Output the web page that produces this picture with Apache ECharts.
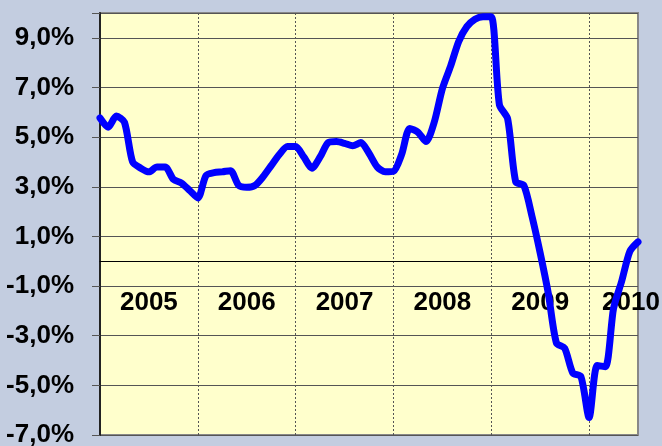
<!DOCTYPE html>
<html>
<head>
<meta charset="utf-8">
<script src="https://cdn.jsdelivr.net/npm/echarts@6/dist/echarts.min.js"></script>
<style>
html,body{margin:0;padding:0;background:#c3cde0;}
#chart{width:662px;height:446px;}
</style>
</head>
<body>
<div id="chart"></div>
<script>
// Monthly categories Jan 2005 .. Jul 2010
var years = ['2005','2006','2007','2008','2009','2010'];
var months = [];
for (var y = 2005; y <= 2010; y++) {
  for (var m = 1; m <= 12; m++) {
    if (y === 2010 && m > 7) break;
    months.push(y + '-' + (m < 10 ? '0' + m : m));
  }
}
// Values (%)
var values = [
  5.77, 5.40, 5.85, 5.60, 4.00, 3.75, 3.60, 3.80, 3.80, 3.30, 3.15, 2.85,
  2.55, 3.45, 3.57, 3.60, 3.65, 3.06, 2.98, 3.05, 3.40, 3.85, 4.30, 4.62,
  4.62, 4.20, 3.75, 4.20, 4.78, 4.82, 4.75, 4.65, 4.78, 4.35, 3.80, 3.60,
  3.62, 4.30, 5.35, 5.20, 4.82, 5.60, 6.95, 7.85, 8.85, 9.45, 9.75, 9.85,
  9.85, 6.30, 5.75, 3.20, 3.05, 1.80, 0.33, -1.30, -3.30, -3.50, -4.50, -4.65,
  -6.30, -4.20, -4.25, -1.90, -0.80, 0.40, 0.78
];
var yTicks = [-7, -5, -3, -1, 1, 3, 5, 7, 9];

var chart = echarts.init(document.getElementById('chart'));
var font = '"Liberation Sans", Arial, sans-serif';
chart.setOption({
  backgroundColor: '#c3cde0',
  animation: false,
  grid: {
    left: 100, right: 24, top: 13, bottom: 11,
    containLabel: false,
    outerBoundsMode: 'none',
    show: true, backgroundColor: '#ffffcc',
    borderColor: '#888888', borderWidth: 2
  },
  xAxis: [{
    type: 'category',
    data: months,
    boundaryGap: false,
    axisLine: { onZero: true, lineStyle: { color: '#000000', width: 1 } },
    axisTick: { show: false },
    axisLabel: { show: false },
    splitLine: {
      show: true,
      interval: function (idx) { return idx % 12 === 0 && idx > 0; },
      lineStyle: { color: '#555555', type: [2, 2], width: 1 }
    }
  }, {
    type: 'category',
    data: months,
    boundaryGap: false,
    position: 'bottom',
    offset: -174,
    axisLine: { show: false, onZero: false },
    axisTick: { show: false },
    splitLine: { show: false },
    axisLabel: {
      interval: function (idx) { return idx % 12 === 6; },
      formatter: function (val, idx) {
        var yr = years[Math.floor(idx / 12)];
        if (idx === months.length - 1) return '{r|' + yr + '}';
        return yr;
      },
      rich: { r: { fontFamily: font, fontWeight: 'bold', fontSize: 26, color: '#000', padding: [0, 14, 0, 0] } },
      margin: 29,
      fontFamily: font, fontWeight: 'bold', fontSize: 26, color: '#000000'
    }
  }],
  yAxis: {
    type: 'value',
    min: -7, max: 10, interval: 2,
    axisLine: { show: true, onZero: false, lineStyle: { color: '#222222', width: 2 } },
    axisTick: { show: true, inside: false, length: 8, lineStyle: { color: '#555555' } },
    axisLabel: {
      margin: 26,
      fontFamily: font, fontWeight: 'bold', fontSize: 26, color: '#000000',
      formatter: function (v) {
        if (yTicks.indexOf(v) < 0) return '';
        return v.toFixed(1).replace('.', ',') + '%';
      }
    },
    splitLine: { show: true, lineStyle: { color: '#555555', width: 1 } }
  },
  series: [{
    type: 'line',
    xAxisIndex: 0,
    data: values,
    symbol: 'none',
    smooth: 0.25,
    lineStyle: { color: '#0000ff', width: 7, cap: 'round', join: 'round' }
  }]
});
</script>
</body>
</html>
